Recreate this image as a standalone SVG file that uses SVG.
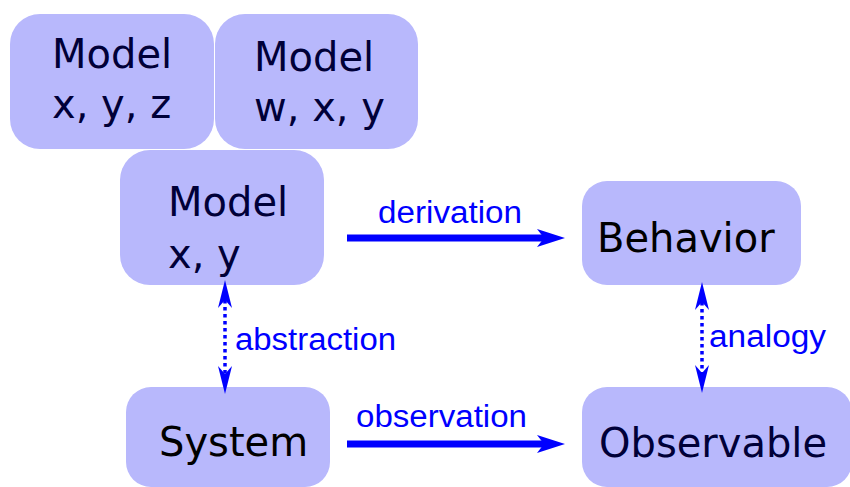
<svg xmlns="http://www.w3.org/2000/svg" width="850" height="487" viewBox="0 0 850 487">
<style>
.node{fill:#b8b8fc}
.t{font-family:"DejaVu Sans",sans-serif;font-size:40px;fill:#000038}
.k{fill:#000000}
.lbl{font-family:"Liberation Sans",Arial,sans-serif;font-size:31px;fill:#0000ff}
.solid{stroke:#0000ff;stroke-width:7;fill:none}
.dot{stroke:#0000ff;stroke-width:3.5;stroke-dasharray:3.5 3.5;fill:none}
</style>
<defs>
<marker id="ah" markerUnits="userSpaceOnUse" viewBox="-10 -12 32 24" refX="0" refY="0" markerWidth="32" markerHeight="24" orient="auto" overflow="visible">
<path d="M20,0 L-8,-9 L-1,0 L-8,9 Z" fill="#0000ff"/>
</marker>
<marker id="ahs" markerUnits="userSpaceOnUse" viewBox="-10 -10 32 20" refX="0" refY="0" markerWidth="32" markerHeight="20" orient="auto-start-reverse" overflow="visible">
<path d="M20,0 L-8,-7 L0,0 L-8,7 Z" fill="#0000ff"/>
</marker>
</defs>
<g id="model-xyz">
<rect class="node" x="10" y="14" width="204" height="135" rx="30"/>
<text class="t" x="52" y="68">Model</text>
<text class="t" x="52" y="118">x, y, z</text>
</g>
<g id="model-wxy">
<rect class="node" x="215" y="14" width="203" height="135" rx="30"/>
<text class="t" x="254" y="71">Model</text>
<text class="t" x="254" y="121">w, x, y</text>
</g>
<g id="model-xy">
<rect class="node" x="120" y="150" width="204" height="135" rx="30"/>
<text class="t" x="168" y="216">Model</text>
<text class="t" x="168" y="268">x, y</text>
</g>
<g id="behavior">
<rect class="node" x="582" y="181" width="219" height="104" rx="25"/>
<text class="t k" x="597" y="252">Behavior</text>
</g>
<g id="system">
<rect class="node" x="126" y="387" width="204" height="100" rx="25"/>
<text class="t k" x="159" y="456">System</text>
</g>
<g id="observable">
<rect class="node" x="582" y="387" width="270" height="100" rx="25"/>
<text class="t" x="599" y="457">Observable</text>
</g>
<g id="connectors">
<line class="solid" x1="347" y1="238" x2="545" y2="238" marker-end="url(#ah)"/>
<text class="lbl" x="378" y="223" textLength="144" lengthAdjust="spacingAndGlyphs">derivation</text>
<line class="solid" x1="347" y1="444" x2="545" y2="444" marker-end="url(#ah)"/>
<text class="lbl" x="356" y="427" textLength="171" lengthAdjust="spacingAndGlyphs">observation</text>
<line class="dot" x1="225" y1="300" x2="225" y2="374" marker-start="url(#ahs)" marker-end="url(#ahs)"/>
<text class="lbl" x="235" y="350" textLength="161" lengthAdjust="spacingAndGlyphs">abstraction</text>
<line class="dot" x1="702" y1="302" x2="702" y2="373" marker-start="url(#ahs)" marker-end="url(#ahs)"/>
<text class="lbl" x="709" y="347" textLength="117" lengthAdjust="spacingAndGlyphs">analogy</text>
</g>
</svg>
